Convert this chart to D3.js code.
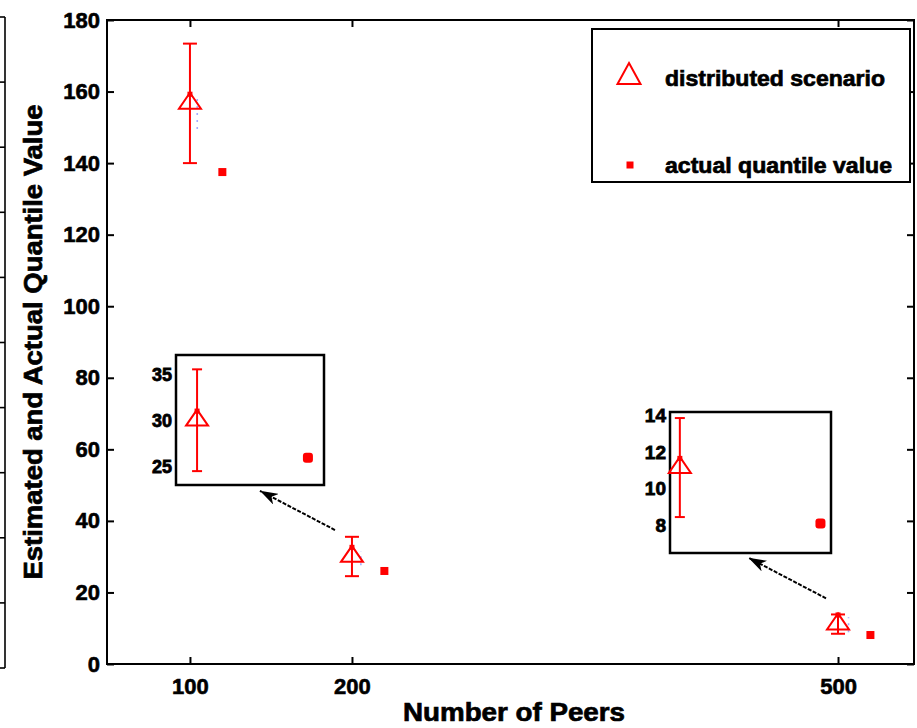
<!DOCTYPE html>
<html>
<head>
<meta charset="utf-8">
<script src="https://cdn.jsdelivr.net/npm/d3@7"></script>
<style>
  html, body { margin: 0; padding: 0; background: #fff; }
  svg { display: block; }
  text { font-family: "Liberation Sans", Arial, Helvetica, sans-serif; font-weight: bold; fill: #000; }
</style>
</head>
<body>
<svg id="chart" width="917" height="728"></svg>
<script>
// ---------------- DATA ----------------
const peers      = [100, 200, 500];          // x categories (Number of Peers)
const estMean    = [156.7, 30.05, 11.15];    // distributed scenario estimate
const estErr     = [16.7, 5.5, 2.7];         // half-width of error bar
const actualX    = [120, 220, 520];          // plotted x of actual quantile value
const actualVal  = [137.5, 26.0, 8.1];       // actual quantile value
const blueX      = [104.5, 205.5, 506.5];    // faint hidden series
const blueLow    = [149.5, 27.6, 8.9];
const blueHigh   = [158.7, 31.6, 13.1];
const xTickVals  = [100, 200, 500];
const yTickVals  = [0, 20, 40, 60, 80, 100, 120, 140, 160, 180];
const inset1YTicks = [25, 30, 35];
const inset2YTicks = [8, 10, 12, 14];
const legendLabels = ["distributed scenario", "actual quantile value"];
const xLabel = "Number of Peers";
const yLabel = "Estimated and Actual Quantile Value";

// ---------------- LAYOUT ----------------
const svg = d3.select("#chart");
const frame = {left: 107, right: 914, top: 20, bottom: 664};
const x = d3.scaleLinear().domain([48.8, 546.9]).range([frame.left, frame.right]);
const y = d3.scaleLinear().domain([0, 180]).range([frame.bottom, frame.top]);
const RED = "#ff0000";

// neighbour figure remnant at the far left
const nb = d3.scaleLinear().domain([0, 10]).range([17, 668]);
svg.append("line").attr("x1", 5).attr("x2", 5).attr("y1", nb(0)).attr("y2", nb(10))
  .attr("stroke", "#000").attr("stroke-width", 1.6);
svg.append("g").selectAll("line").data(d3.range(0, 11)).join("line")
  .attr("x1", 0).attr("x2", 5).attr("y1", d => nb(d)).attr("y2", d => nb(d))
  .attr("stroke", "#000").attr("stroke-width", 1.6);

// frame
svg.append("rect").attr("x", frame.left).attr("y", frame.top)
  .attr("width", frame.right - frame.left).attr("height", frame.bottom - frame.top)
  .attr("fill", "none").attr("stroke", "#000").attr("stroke-width", 2);

// axes (inward ticks)
const tk = 7;
const axB = svg.append("g").attr("transform", `translate(0,${frame.bottom})`)
  .call(d3.axisBottom(x).tickValues(xTickVals).tickSizeInner(-tk).tickSizeOuter(0).tickPadding(14));
const axT = svg.append("g").attr("transform", `translate(0,${frame.top})`)
  .call(d3.axisTop(x).tickValues(xTickVals).tickSizeInner(-tk).tickSizeOuter(0).tickFormat(""));
const axL = svg.append("g").attr("transform", `translate(${frame.left},0)`)
  .call(d3.axisLeft(y).tickValues(yTickVals).tickSizeInner(-tk).tickSizeOuter(0).tickPadding(14));
const axR = svg.append("g").attr("transform", `translate(${frame.right},0)`)
  .call(d3.axisRight(y).tickValues(yTickVals).tickSizeInner(-tk).tickSizeOuter(0).tickFormat(""));
[axB, axT, axL, axR].forEach(a => {
  a.select(".domain").remove();
  a.selectAll(".tick line").attr("stroke", "#000").attr("stroke-width", 2);
});
axB.selectAll(".tick text").attr("font-size", 22).attr("font-family", "Liberation Sans, Arial")
  .attr("font-weight", "bold").attr("fill", "#000").attr("stroke", "#000").attr("stroke-width", 0.6);
axL.selectAll(".tick text").attr("font-size", 22).attr("font-family", "Liberation Sans, Arial")
  .attr("font-weight", "bold").attr("fill", "#000").attr("stroke", "#000").attr("stroke-width", 0.6)
  .attr("dx", 7);

// axis labels
svg.append("text").attr("x", 514).attr("y", 721).attr("text-anchor", "middle")
  .attr("font-size", 26).attr("stroke", "#000").attr("stroke-width", 0.7)
  .attr("textLength", 222).attr("lengthAdjust", "spacingAndGlyphs").text(xLabel);
svg.append("text").attr("transform", "translate(42,342) rotate(-90)").attr("text-anchor", "middle")
  .attr("font-size", 26).attr("stroke", "#000").attr("stroke-width", 0.7)
  .attr("textLength", 475).attr("lengthAdjust", "spacingAndGlyphs").text(yLabel);

// marker helpers
const TW = 22, TH = 16;
function triPath(cx, cy) {
  return `M${cx},${cy - 2 * TH / 3} L${cx + TW / 2},${cy + TH / 3} L${cx - TW / 2},${cy + TH / 3} Z`;
}

function drawSeries(g, xs, ys, idx, capW, sqSize, rounded, withBlue) {
  if (withBlue) {
    g.selectAll(".blue").data(idx).join("line").attr("class", "blue")
      .attr("x1", i => xs(blueX[i])).attr("x2", i => xs(blueX[i]))
      .attr("y1", i => ys(blueLow[i])).attr("y2", i => ys(blueHigh[i]))
      .attr("stroke", "#5a6aff").attr("stroke-width", 1.6).attr("stroke-dasharray", "2,5")
      .attr("opacity", 0.55);
  }
  g.selectAll(".eb").data(idx).join("line").attr("class", "eb")
    .attr("x1", i => xs(peers[i])).attr("x2", i => xs(peers[i]))
    .attr("y1", i => ys(estMean[i] - estErr[i])).attr("y2", i => ys(estMean[i] + estErr[i]))
    .attr("stroke", RED).attr("stroke-width", 2);
  g.selectAll(".capT").data(idx).join("line").attr("class", "capT")
    .attr("x1", i => xs(peers[i]) - capW / 2).attr("x2", i => xs(peers[i]) + capW / 2)
    .attr("y1", i => ys(estMean[i] + estErr[i])).attr("y2", i => ys(estMean[i] + estErr[i]))
    .attr("stroke", RED).attr("stroke-width", 2);
  g.selectAll(".capB").data(idx).join("line").attr("class", "capB")
    .attr("x1", i => xs(peers[i]) - capW / 2).attr("x2", i => xs(peers[i]) + capW / 2)
    .attr("y1", i => ys(estMean[i] - estErr[i])).attr("y2", i => ys(estMean[i] - estErr[i]))
    .attr("stroke", RED).attr("stroke-width", 2);
  g.selectAll(".tri").data(idx).join("path").attr("class", "tri")
    .attr("d", i => triPath(xs(peers[i]), ys(estMean[i])))
    .attr("fill", "none").attr("stroke", RED).attr("stroke-width", 2);
  g.selectAll(".apex").data(idx).join("rect").attr("class", "apex")
    .attr("x", i => xs(peers[i]) - 2.5).attr("y", i => ys(estMean[i]) - 2 * TH / 3 - 1)
    .attr("width", 5).attr("height", 5).attr("fill", RED);
  g.selectAll(".act").data(idx).join("rect").attr("class", "act")
    .attr("x", i => xs(actualX[i]) - sqSize / 2).attr("y", i => ys(actualVal[i]) - sqSize / 2)
    .attr("width", sqSize).attr("height", sqSize).attr("rx", rounded).attr("fill", RED);
}

// main series
drawSeries(svg.append("g"), x, y, d3.range(peers.length), 14, 8, 0, true);

// arrows (in main data coordinates)
const arrows = [
  {x1: 189.5, y1: 37.45, x2: 143.2, y2: 48.4},
  {x1: 492.6, y1: 18.36, x2: 444.7, y2: 29.7}
];
svg.append("defs").append("marker").attr("id", "ah")
  .attr("viewBox", "0 0 18 12").attr("refX", 18).attr("refY", 6)
  .attr("markerWidth", 18).attr("markerHeight", 12).attr("markerUnits", "userSpaceOnUse")
  .attr("orient", "auto")
  .append("path").attr("d", "M0,0 L18,6 L0,12 L5,6 Z").attr("fill", "#000");
svg.selectAll(".arrow").data(arrows).join("line").attr("class", "arrow")
  .attr("x1", d => x(d.x1)).attr("y1", d => y(d.y1))
  .attr("x2", d => x(d.x2)).attr("y2", d => y(d.y2))
  .attr("stroke", "#000").attr("stroke-width", 2).attr("stroke-dasharray", "4,1.5")
  .attr("marker-end", "url(#ah)");

// insets
function inset(box, xd, yd, ticks, idx, fs, capW) {
  const g = svg.append("g");
  const xs = d3.scaleLinear().domain(xd).range([box.l, box.r]);
  const ys = d3.scaleLinear().domain(yd).range([box.b, box.t]);
  g.append("rect").attr("x", box.l).attr("y", box.t).attr("width", box.r - box.l)
    .attr("height", box.b - box.t).attr("fill", "#fff").attr("stroke", "#000").attr("stroke-width", 2.5);
  const ax = g.append("g").attr("transform", `translate(${box.l},0)`)
    .call(d3.axisLeft(ys).tickValues(ticks).tickSize(0).tickPadding(4));
  ax.select(".domain").remove();
  ax.selectAll(".tick text").attr("font-size", fs).attr("font-family", "Liberation Sans, Arial")
    .attr("font-weight", "bold").attr("fill", "#000").attr("stroke", "#000").attr("stroke-width", 0.8);
  drawSeries(g, xs, ys, idx, capW, 10, 3, false);
}
inset({l: 176, r: 324, t: 355, b: 485}, [196.2, 222.9], [23.05, 37.1], inset1YTicks, [1], 18, 10);
inset({l: 670, r: 831, t: 412, b: 553}, [498.6, 521.5], [6.49, 14.18], inset2YTicks, [2], 19, 10);

// legend
const lg = svg.append("g");
lg.append("rect").attr("x", 592).attr("y", 29).attr("width", 318).attr("height", 153)
  .attr("fill", "#fff").attr("stroke", "#000").attr("stroke-width", 2);
lg.append("path").attr("d", `M629,${63} L640.5,${84} L617.5,${84} Z`)
  .attr("fill", "none").attr("stroke", RED).attr("stroke-width", 2);
lg.append("rect").attr("x", 626.5).attr("y", 161.5).attr("width", 7).attr("height", 7).attr("fill", RED);
const legendY = [86, 173];
const legendW = [220, 227];
lg.selectAll(".lt").data(legendLabels).join("text").attr("class", "lt")
  .attr("x", 665).attr("y", (d, i) => legendY[i]).attr("font-size", 22)
  .attr("stroke", "#000").attr("stroke-width", 0.7)
  .attr("textLength", (d, i) => legendW[i]).attr("lengthAdjust", "spacingAndGlyphs")
  .text(d => d);
</script>
</body>
</html>
